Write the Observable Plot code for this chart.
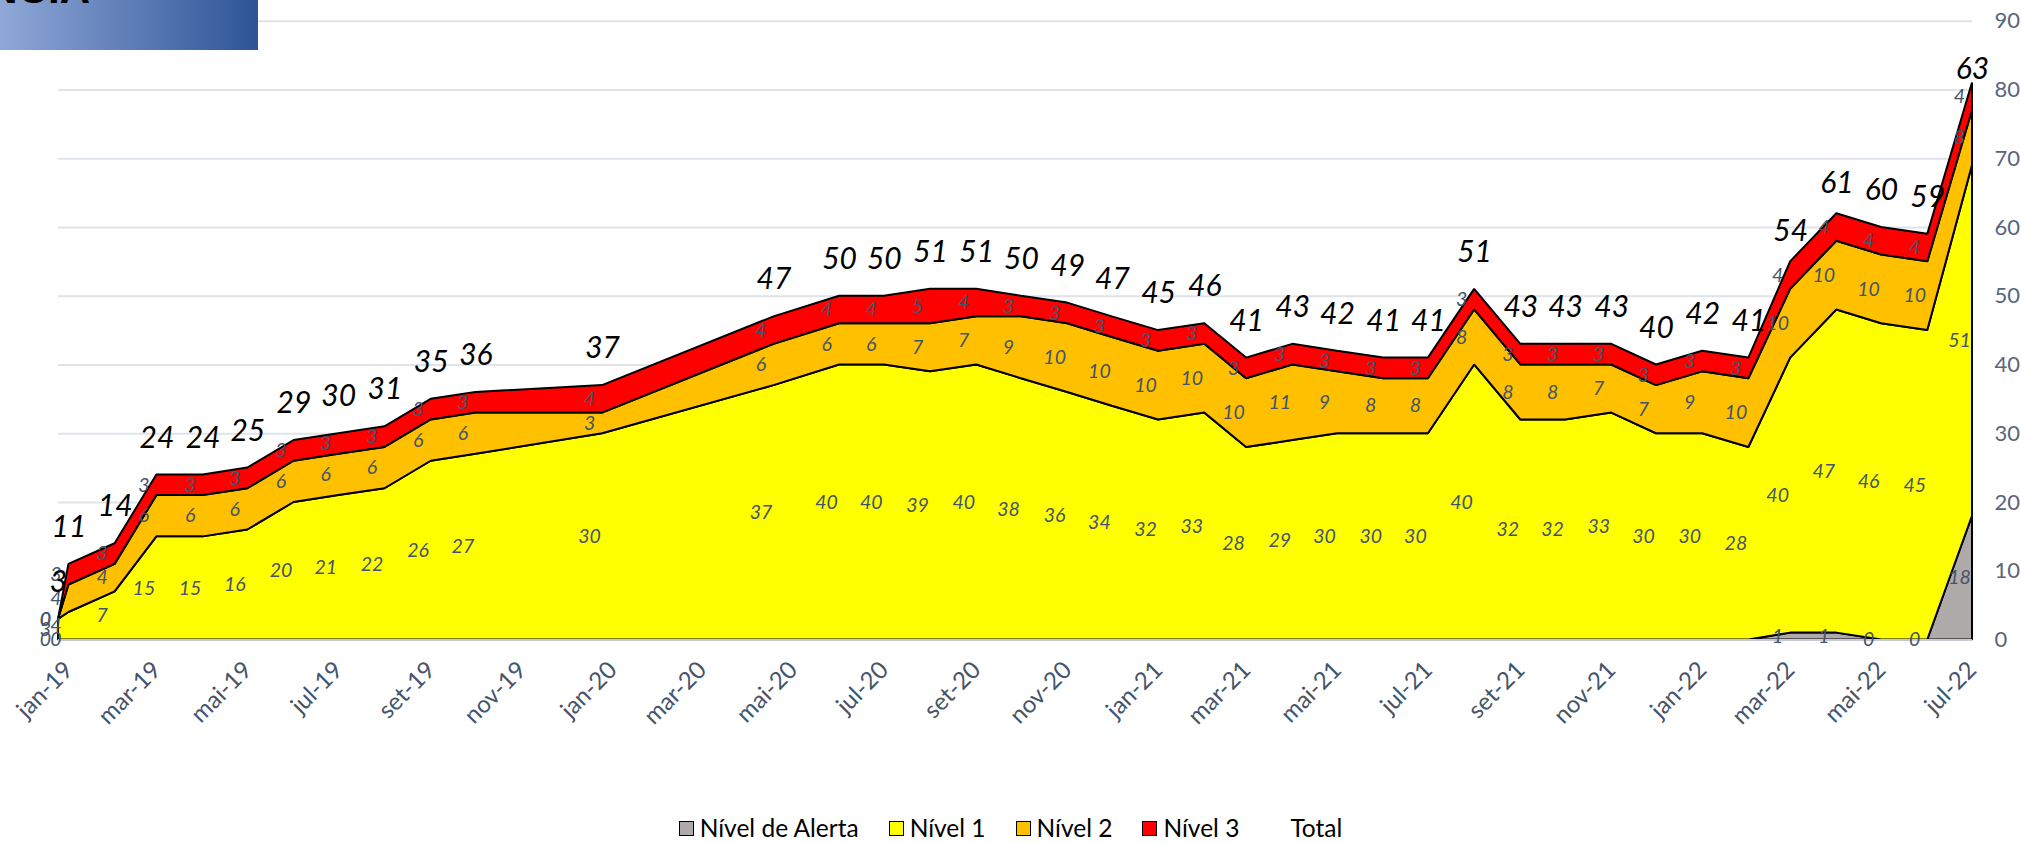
<!DOCTYPE html>
<html><head><meta charset="utf-8">
<script src="https://cdn.jsdelivr.net/npm/d3@7"></script>
<script src="https://cdn.jsdelivr.net/npm/@observablehq/plot@0.6"></script>
<style>
html,body{margin:0;padding:0;background:#fff;width:2021px;height:843px;overflow:hidden;font-family:Lato,"Open Sans",sans-serif}
#wrap{position:relative;width:2021px;height:843px}
#hdr{position:absolute;left:0;top:0;width:258px;height:50px;background:linear-gradient(to right,#8fa8d8,#2e5496);overflow:hidden;z-index:2}
#hdr span{position:absolute;right:168px;top:-32px;font:bold 42px "Liberation Sans",Arial,sans-serif;line-height:1;color:#000;white-space:nowrap}
#legend{position:absolute;left:0;top:814px;width:2021px;display:flex;justify-content:center;gap:30px;font-size:24.5px;color:#000;line-height:28px}
.item{display:flex;align-items:center;gap:6px}
.sw{width:15px;height:15px;box-sizing:border-box;border:1.5px solid #000}
</style></head>
<body><div id="wrap"><div id="hdr"><span>NCIA</span></div><div id="chart"></div><div id="legend"></div></div>
<script>
const dates = ["2018-12-25","2019-01-01","2019-02-01","2019-03-01","2019-04-01","2019-05-01","2019-06-01","2019-07-01","2019-08-01","2019-09-01","2019-10-01","2019-12-25","2020-04-18","2020-06-01","2020-07-01","2020-08-01","2020-09-01","2020-10-01","2020-11-01","2020-12-01","2021-01-01","2021-02-01","2021-03-01","2021-04-01","2021-05-01","2021-06-01","2021-07-01","2021-08-01","2021-09-01","2021-10-01","2021-11-01","2021-12-01","2022-01-01","2022-02-01","2022-03-01","2022-04-01","2022-05-01","2022-06-01","2022-07-01"];
const alerta = [0,0,null,null,null,null,null,null,null,null,null,null,null,null,null,null,null,null,null,null,null,null,null,null,null,null,null,null,null,null,null,null,null,null,1,1,0,0,18];
const nivel1 = [3,4,7,15,15,16,20,21,22,26,27,30,37,40,40,39,40,38,36,34,32,33,28,29,30,30,30,40,32,32,33,30,30,28,40,47,46,45,51];
const nivel2 = [0,4,4,6,6,6,6,6,6,6,6,3,6,6,6,7,7,9,10,10,10,10,10,11,9,8,8,8,8,8,7,7,9,10,10,10,10,10,8];
const nivel3 = [0,3,3,3,3,3,3,3,3,3,3,4,4,4,4,5,4,3,3,3,3,3,3,3,3,3,3,3,3,3,3,3,3,3,4,4,4,4,4];
const total  = [3,11,14,24,24,25,29,30,31,35,36,37,47,50,50,51,51,50,49,47,45,46,41,43,42,41,41,51,43,43,43,40,42,41,54,61,60,59,63];
const tickDates = ["2019-01-01","2019-03-01","2019-05-01","2019-07-01","2019-09-01","2019-11-01","2020-01-01","2020-03-01","2020-05-01","2020-07-01","2020-09-01","2020-11-01","2021-01-01","2021-03-01","2021-05-01","2021-07-01","2021-09-01","2021-11-01","2022-01-01","2022-03-01","2022-05-01","2022-07-01"];
const tickLabels = ["jan-19","mar-19","mai-19","jul-19","set-19","nov-19","jan-20","mar-20","mai-20","jul-20","set-20","nov-20","jan-21","mar-21","mai-21","jul-21","set-21","nov-21","jan-22","mar-22","mai-22","jul-22"];
const yTicks = [0,10,20,30,40,50,60,70,80,90];
const seriesNames = ["Nível de Alerta","Nível 1","Nível 2","Nível 3"];
const seriesColors = ["#AEAAAA","#FFFF00","#FFC000","#FF0000"];
const totalName = "Total";

const series = [alerta, nivel1, nivel2, nivel3];
const rows = dates.map((d, i) => {
  const r = {date: new Date(d), total: total[i]};
  let base = 0;
  series.forEach((s, k) => {
    const v = s[i] == null ? 0 : s[i];
    r["b" + k] = base; r["t" + k] = base + v; r["v" + k] = s[i];
    base += v;
  });
  r.top = base;
  return r;
});
const innerLabels = [];
rows.forEach(r => series.forEach((s, k) => {
  if (r["v" + k] != null) innerLabels.push({date: r.date, y: (r["b" + k] + r["t" + k]) / 2, text: String(r["v" + k])});
}));
const normalTotals = rows.filter(r => r.top - r.total <= 5);
const liftedTotals = rows.filter(r => r.top - r.total > 5);
const tickMap = new Map(tickDates.map((d, i) => [+new Date(d), tickLabels[i]]));
const H = 812, y0px = 639.5;

const areaMarks = series.map((s, k) => Plot.areaY(rows, {
  x: "date", y1: "b" + k, y2: "t" + k, fill: seriesColors[k], stroke: "#000", strokeWidth: 2, strokeLinejoin: "miter"
}));

const chart = Plot.plot({
  width: 2021, height: H,
  marginLeft: 58, marginRight: 49, marginTop: 20.7, marginBottom: H - y0px,
  style: {fontFamily: "Lato, 'Open Sans', sans-serif", background: "transparent"},
  x: {type: "utc", domain: [new Date(dates[0]), new Date(dates[dates.length - 1])]},
  y: {domain: [0, 90]},
  marks: [
    Plot.ruleY(yTicks.filter(d => d > 0), {stroke: "#DFE3EA", strokeWidth: 2}),
    ...areaMarks,
    Plot.ruleY([0], {stroke: "#C5CAD3", strokeWidth: 2}),
    Plot.axisX({ticks: tickDates.map(d => new Date(d)), tickFormat: d => tickMap.get(+d), tickRotate: -45, tickSize: 0, tickPadding: 26, fontSize: 24, fill: "#44546A", label: null}),
    Plot.axisY({anchor: "right", ticks: yTicks, tickSize: 0, tickPadding: 22, fontSize: 22, fill: "#596579", label: null}),
    Plot.text(innerLabels, {x: "date", y: "y", text: "text", dx: -13, fill: "#44546A", fontSize: 19.5, fontStyle: "italic"}),
    Plot.text(normalTotals, {x: "date", y: "total", text: d => String(d.total), dy: -37, fill: "#000", fontSize: 30, fontStyle: "italic"}),
    Plot.text(liftedTotals, {x: "date", y: "top", text: d => String(d.total), dy: -14, fill: "#000", fontSize: 30, fontStyle: "italic"})
  ]
});
document.getElementById("chart").appendChild(chart);

const legend = document.getElementById("legend");
seriesNames.forEach((n, k) => {
  const it = document.createElement("div"); it.className = "item";
  it.innerHTML = `<span class="sw" style="background:${seriesColors[k]}"></span><span>${n}</span>`;
  legend.appendChild(it);
});
const tot = document.createElement("div"); tot.className = "item";
tot.innerHTML = `<span class="sw" style="border-color:transparent"></span><span>${totalName}</span>`;
legend.appendChild(tot);
</script></body></html>
